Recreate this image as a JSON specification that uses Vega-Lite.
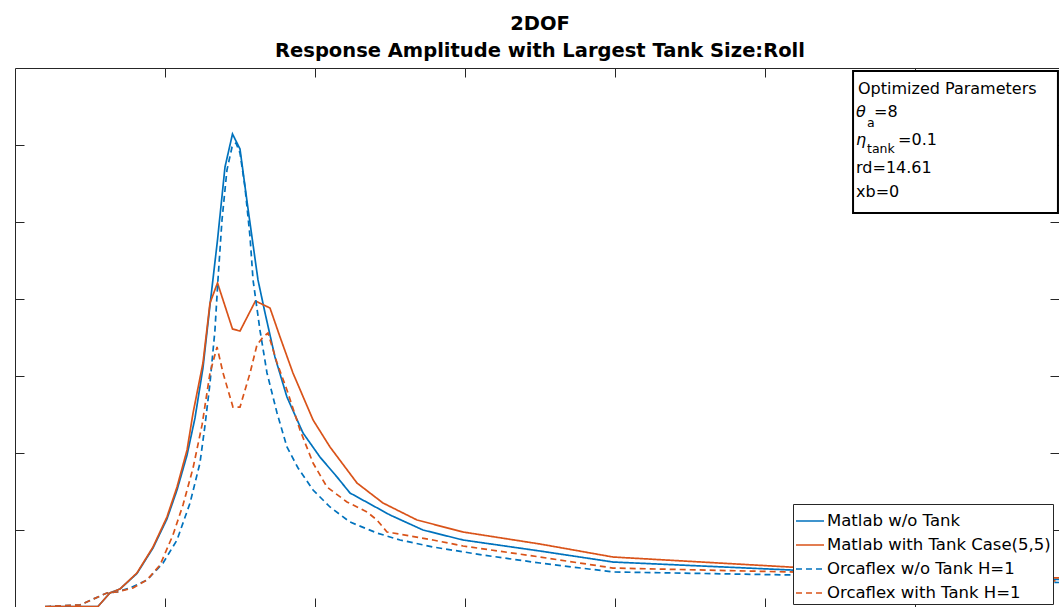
{
  "$schema": "https://vega.github.io/schema/vega-lite/v6.json",
  "width": 1044,
  "height": 539,
  "autosize": {"type": "none"},
  "padding": {"left": 15, "top": 68, "right": 0, "bottom": 0},
  "background": "white",
  "config": {
    "view": {"stroke": null},
    "font": "DejaVu Sans",
    "axis": {"domainColor": "#262626", "tickColor": "#262626", "domainWidth": 1, "tickWidth": 1, "grid": false, "labels": false, "title": null, "tickSize": -9},
    "legend": {
      "orient": "none", "legendX": 778, "legendY": 436, "title": null,
      "symbolType": "stroke", "symbolSize": 784, "symbolStrokeWidth": 1.7,
      "labelFont": "DejaVu Sans", "labelFontSize": 16.5, "labelColor": "#000", "labelOffset": 2,
      "padding": 2, "rowPadding": -4.5, "strokeColor": "#262626", "fillColor": "white", "labelLimit": 400
    }
  },
  "title": {
    "text": ["2DOF", "Response Amplitude with Largest Tank Size:Roll"],
    "font": "DejaVu Sans", "fontSize": 19.5, "fontWeight": "bold", "color": "#000",
    "lineHeight": 27, "anchor": "middle", "offset": 6, "dx": 3
  },
  "datasets": {
    "curves": [
      {"series": "Matlab w/o Tank", "x": 0.233, "y": 0.006},
      {"series": "Matlab w/o Tank", "x": 0.553, "y": 0.006},
      {"series": "Matlab w/o Tank", "x": 0.633, "y": 0.182},
      {"series": "Matlab w/o Tank", "x": 0.700, "y": 0.234},
      {"series": "Matlab w/o Tank", "x": 0.813, "y": 0.435},
      {"series": "Matlab w/o Tank", "x": 0.920, "y": 0.766},
      {"series": "Matlab w/o Tank", "x": 1.013, "y": 1.143},
      {"series": "Matlab w/o Tank", "x": 1.080, "y": 1.519},
      {"series": "Matlab w/o Tank", "x": 1.147, "y": 1.974},
      {"series": "Matlab w/o Tank", "x": 1.200, "y": 2.455},
      {"series": "Matlab w/o Tank", "x": 1.253, "y": 3.104},
      {"series": "Matlab w/o Tank", "x": 1.300, "y": 3.922},
      {"series": "Matlab w/o Tank", "x": 1.350, "y": 4.766},
      {"series": "Matlab w/o Tank", "x": 1.400, "y": 5.714},
      {"series": "Matlab w/o Tank", "x": 1.450, "y": 6.143},
      {"series": "Matlab w/o Tank", "x": 1.500, "y": 5.948},
      {"series": "Matlab w/o Tank", "x": 1.550, "y": 5.221},
      {"series": "Matlab w/o Tank", "x": 1.620, "y": 4.247},
      {"series": "Matlab w/o Tank", "x": 1.667, "y": 3.818},
      {"series": "Matlab w/o Tank", "x": 1.733, "y": 3.247},
      {"series": "Matlab w/o Tank", "x": 1.813, "y": 2.727},
      {"series": "Matlab w/o Tank", "x": 1.920, "y": 2.260},
      {"series": "Matlab w/o Tank", "x": 2.033, "y": 1.948},
      {"series": "Matlab w/o Tank", "x": 2.147, "y": 1.688},
      {"series": "Matlab w/o Tank", "x": 2.233, "y": 1.481},
      {"series": "Matlab w/o Tank", "x": 2.500, "y": 1.195},
      {"series": "Matlab w/o Tank", "x": 2.720, "y": 1.000},
      {"series": "Matlab w/o Tank", "x": 2.987, "y": 0.870},
      {"series": "Matlab w/o Tank", "x": 3.500, "y": 0.727},
      {"series": "Matlab w/o Tank", "x": 3.987, "y": 0.584},
      {"series": "Matlab w/o Tank", "x": 5.167, "y": 0.481},
      {"series": "Matlab w/o Tank", "x": 6.960, "y": 0.357},

      {"series": "Matlab with Tank Case(5,5)", "x": 0.233, "y": 0.006},
      {"series": "Matlab with Tank Case(5,5)", "x": 0.553, "y": 0.006},
      {"series": "Matlab with Tank Case(5,5)", "x": 0.633, "y": 0.182},
      {"series": "Matlab with Tank Case(5,5)", "x": 0.700, "y": 0.234},
      {"series": "Matlab with Tank Case(5,5)", "x": 0.813, "y": 0.442},
      {"series": "Matlab with Tank Case(5,5)", "x": 0.920, "y": 0.779},
      {"series": "Matlab with Tank Case(5,5)", "x": 1.013, "y": 1.169},
      {"series": "Matlab with Tank Case(5,5)", "x": 1.080, "y": 1.558},
      {"series": "Matlab with Tank Case(5,5)", "x": 1.147, "y": 2.039},
      {"series": "Matlab with Tank Case(5,5)", "x": 1.187, "y": 2.519},
      {"series": "Matlab with Tank Case(5,5)", "x": 1.253, "y": 3.169},
      {"series": "Matlab with Tank Case(5,5)", "x": 1.300, "y": 3.948},
      {"series": "Matlab with Tank Case(5,5)", "x": 1.350, "y": 4.208},
      {"series": "Matlab with Tank Case(5,5)", "x": 1.450, "y": 3.610},
      {"series": "Matlab with Tank Case(5,5)", "x": 1.500, "y": 3.584},
      {"series": "Matlab with Tank Case(5,5)", "x": 1.603, "y": 3.974},
      {"series": "Matlab with Tank Case(5,5)", "x": 1.700, "y": 3.883},
      {"series": "Matlab with Tank Case(5,5)", "x": 1.767, "y": 3.506},
      {"series": "Matlab with Tank Case(5,5)", "x": 1.853, "y": 3.039},
      {"series": "Matlab with Tank Case(5,5)", "x": 1.987, "y": 2.429},
      {"series": "Matlab with Tank Case(5,5)", "x": 2.100, "y": 2.078},
      {"series": "Matlab with Tank Case(5,5)", "x": 2.280, "y": 1.610},
      {"series": "Matlab with Tank Case(5,5)", "x": 2.453, "y": 1.351},
      {"series": "Matlab with Tank Case(5,5)", "x": 2.680, "y": 1.130},
      {"series": "Matlab with Tank Case(5,5)", "x": 2.987, "y": 0.974},
      {"series": "Matlab with Tank Case(5,5)", "x": 3.500, "y": 0.818},
      {"series": "Matlab with Tank Case(5,5)", "x": 3.987, "y": 0.649},
      {"series": "Matlab with Tank Case(5,5)", "x": 5.167, "y": 0.519},
      {"series": "Matlab with Tank Case(5,5)", "x": 6.960, "y": 0.377},

      {"series": "Orcaflex w/o Tank H=1", "x": 0.200, "y": 0.006},
      {"series": "Orcaflex w/o Tank H=1", "x": 0.433, "y": 0.026},
      {"series": "Orcaflex w/o Tank H=1", "x": 0.613, "y": 0.182},
      {"series": "Orcaflex w/o Tank H=1", "x": 0.680, "y": 0.195},
      {"series": "Orcaflex w/o Tank H=1", "x": 0.767, "y": 0.247},
      {"series": "Orcaflex w/o Tank H=1", "x": 0.880, "y": 0.351},
      {"series": "Orcaflex w/o Tank H=1", "x": 0.987, "y": 0.571},
      {"series": "Orcaflex w/o Tank H=1", "x": 1.080, "y": 0.870},
      {"series": "Orcaflex w/o Tank H=1", "x": 1.167, "y": 1.351},
      {"series": "Orcaflex w/o Tank H=1", "x": 1.233, "y": 1.870},
      {"series": "Orcaflex w/o Tank H=1", "x": 1.267, "y": 2.364},
      {"series": "Orcaflex w/o Tank H=1", "x": 1.300, "y": 2.909},
      {"series": "Orcaflex w/o Tank H=1", "x": 1.333, "y": 3.597},
      {"series": "Orcaflex w/o Tank H=1", "x": 1.353, "y": 4.247},
      {"series": "Orcaflex w/o Tank H=1", "x": 1.380, "y": 5.026},
      {"series": "Orcaflex w/o Tank H=1", "x": 1.413, "y": 5.675},
      {"series": "Orcaflex w/o Tank H=1", "x": 1.447, "y": 5.974},
      {"series": "Orcaflex w/o Tank H=1", "x": 1.473, "y": 6.026},
      {"series": "Orcaflex w/o Tank H=1", "x": 1.500, "y": 5.896},
      {"series": "Orcaflex w/o Tank H=1", "x": 1.533, "y": 5.455},
      {"series": "Orcaflex w/o Tank H=1", "x": 1.567, "y": 4.805},
      {"series": "Orcaflex w/o Tank H=1", "x": 1.587, "y": 4.247},
      {"series": "Orcaflex w/o Tank H=1", "x": 1.633, "y": 3.597},
      {"series": "Orcaflex w/o Tank H=1", "x": 1.680, "y": 3.039},
      {"series": "Orcaflex w/o Tank H=1", "x": 1.747, "y": 2.519},
      {"series": "Orcaflex w/o Tank H=1", "x": 1.813, "y": 2.078},
      {"series": "Orcaflex w/o Tank H=1", "x": 1.887, "y": 1.805},
      {"series": "Orcaflex w/o Tank H=1", "x": 1.987, "y": 1.519},
      {"series": "Orcaflex w/o Tank H=1", "x": 2.100, "y": 1.299},
      {"series": "Orcaflex w/o Tank H=1", "x": 2.233, "y": 1.104},
      {"series": "Orcaflex w/o Tank H=1", "x": 2.413, "y": 0.961},
      {"series": "Orcaflex w/o Tank H=1", "x": 2.567, "y": 0.870},
      {"series": "Orcaflex w/o Tank H=1", "x": 2.787, "y": 0.779},
      {"series": "Orcaflex w/o Tank H=1", "x": 3.120, "y": 0.675},
      {"series": "Orcaflex w/o Tank H=1", "x": 3.500, "y": 0.571},
      {"series": "Orcaflex w/o Tank H=1", "x": 3.987, "y": 0.455},
      {"series": "Orcaflex w/o Tank H=1", "x": 5.167, "y": 0.416},
      {"series": "Orcaflex w/o Tank H=1", "x": 6.960, "y": 0.318},

      {"series": "Orcaflex with Tank H=1", "x": 0.200, "y": 0.006},
      {"series": "Orcaflex with Tank H=1", "x": 0.433, "y": 0.026},
      {"series": "Orcaflex with Tank H=1", "x": 0.613, "y": 0.182},
      {"series": "Orcaflex with Tank H=1", "x": 0.680, "y": 0.195},
      {"series": "Orcaflex with Tank H=1", "x": 0.787, "y": 0.247},
      {"series": "Orcaflex with Tank H=1", "x": 0.880, "y": 0.351},
      {"series": "Orcaflex with Tank H=1", "x": 0.967, "y": 0.545},
      {"series": "Orcaflex with Tank H=1", "x": 1.053, "y": 0.935},
      {"series": "Orcaflex with Tank H=1", "x": 1.120, "y": 1.325},
      {"series": "Orcaflex with Tank H=1", "x": 1.187, "y": 1.805},
      {"series": "Orcaflex with Tank H=1", "x": 1.247, "y": 2.364},
      {"series": "Orcaflex with Tank H=1", "x": 1.300, "y": 3.039},
      {"series": "Orcaflex with Tank H=1", "x": 1.347, "y": 3.377},
      {"series": "Orcaflex with Tank H=1", "x": 1.387, "y": 3.039},
      {"series": "Orcaflex with Tank H=1", "x": 1.453, "y": 2.597},
      {"series": "Orcaflex with Tank H=1", "x": 1.500, "y": 2.597},
      {"series": "Orcaflex with Tank H=1", "x": 1.567, "y": 3.039},
      {"series": "Orcaflex with Tank H=1", "x": 1.613, "y": 3.403},
      {"series": "Orcaflex with Tank H=1", "x": 1.653, "y": 3.506},
      {"series": "Orcaflex with Tank H=1", "x": 1.687, "y": 3.558},
      {"series": "Orcaflex with Tank H=1", "x": 1.747, "y": 3.169},
      {"series": "Orcaflex with Tank H=1", "x": 1.813, "y": 2.818},
      {"series": "Orcaflex with Tank H=1", "x": 1.900, "y": 2.299},
      {"series": "Orcaflex with Tank H=1", "x": 1.987, "y": 1.870},
      {"series": "Orcaflex with Tank H=1", "x": 2.080, "y": 1.558},
      {"series": "Orcaflex with Tank H=1", "x": 2.213, "y": 1.364},
      {"series": "Orcaflex with Tank H=1", "x": 2.347, "y": 1.234},
      {"series": "Orcaflex with Tank H=1", "x": 2.413, "y": 1.130},
      {"series": "Orcaflex with Tank H=1", "x": 2.480, "y": 0.974},
      {"series": "Orcaflex with Tank H=1", "x": 2.520, "y": 0.961},
      {"series": "Orcaflex with Tank H=1", "x": 2.787, "y": 0.870},
      {"series": "Orcaflex with Tank H=1", "x": 2.987, "y": 0.792},
      {"series": "Orcaflex with Tank H=1", "x": 3.500, "y": 0.649},
      {"series": "Orcaflex with Tank H=1", "x": 3.987, "y": 0.506},
      {"series": "Orcaflex with Tank H=1", "x": 5.167, "y": 0.455},
      {"series": "Orcaflex with Tank H=1", "x": 6.960, "y": 0.338}
    ],
    "parambox": [
      {"x0": 5.587, "x1": 6.953, "y0": 6.961, "y1": 5.117}
    ],
    "plaintext": [
      {"x": 5.62, "y": 6.658, "label": "Optimized Parameters"},
      {"x": 5.727, "y": 6.36, "label": "=8"},
      {"x": 5.887, "y": 6.0, "label": "=0.1"},
      {"x": 5.607, "y": 5.64, "label": "rd=14.61"},
      {"x": 5.607, "y": 5.329, "label": "xb=0"}
    ],
    "greek": [
      {"x": 5.607, "y": 6.36, "label": "θ"},
      {"x": 5.607, "y": 6.0, "label": "η"}
    ],
    "subs": [
      {"x": 5.68, "y": 6.234, "label": "a"},
      {"x": 5.68, "y": 5.895, "label": "tank"}
    ]
  },
  "layer": [
    {
      "data": {"name": "curves"},
      "mark": {"type": "line", "strokeWidth": 1.7, "clip": false},
      "encoding": {
        "x": {"field": "x", "type": "quantitative", "scale": {"domain": [0, 6.96], "nice": false, "zero": false},
              "axis": {"orient": "bottom", "values": [1, 2, 3, 4, 5, 6]}},
        "y": {"field": "y", "type": "quantitative", "scale": {"domain": [0, 7], "nice": false, "zero": false},
              "axis": {"orient": "left", "values": [1, 2, 3, 4, 5, 6]}},
        "color": {"field": "series", "type": "nominal",
                  "scale": {"domain": ["Matlab w/o Tank", "Matlab with Tank Case(5,5)", "Orcaflex w/o Tank H=1", "Orcaflex with Tank H=1"],
                            "range": ["#0072BD", "#D95319", "#0072BD", "#D95319"]}},
        "strokeDash": {"field": "series", "type": "nominal",
                  "scale": {"domain": ["Matlab w/o Tank", "Matlab with Tank Case(5,5)", "Orcaflex w/o Tank H=1", "Orcaflex with Tank H=1"],
                            "range": [[1, 0], [1, 0], [6, 4], [6, 4]]}}
      }
    },
    {
      "data": {"name": "parambox"},
      "mark": {"type": "rect", "fill": "white", "stroke": "#000", "strokeWidth": 2},
      "encoding": {
        "x": {"field": "x0", "type": "quantitative", "scale": {"domain": [0, 6.96], "nice": false, "zero": false},
              "axis": {"orient": "top", "values": [1, 2, 3, 4, 5, 6]}},
        "x2": {"field": "x1"},
        "y": {"field": "y0", "type": "quantitative", "scale": {"domain": [0, 7], "nice": false, "zero": false},
              "axis": {"orient": "right", "values": [1, 2, 3, 4, 5, 6], "domain": false}},
        "y2": {"field": "y1"}
      }
    },
    {
      "data": {"name": "plaintext"},
      "mark": {"type": "text", "align": "left", "baseline": "alphabetic", "font": "DejaVu Sans", "fontSize": 16, "color": "#000"},
      "encoding": {
        "x": {"field": "x", "type": "quantitative", "scale": {"domain": [0, 6.96], "nice": false, "zero": false}, "axis": null},
        "y": {"field": "y", "type": "quantitative", "scale": {"domain": [0, 7], "nice": false, "zero": false}, "axis": null},
        "text": {"field": "label"}
      }
    },
    {
      "data": {"name": "greek"},
      "mark": {"type": "text", "align": "left", "baseline": "alphabetic", "font": "DejaVu Sans", "fontSize": 16, "fontStyle": "italic", "color": "#000"},
      "encoding": {
        "x": {"field": "x", "type": "quantitative", "scale": {"domain": [0, 6.96], "nice": false, "zero": false}, "axis": null},
        "y": {"field": "y", "type": "quantitative", "scale": {"domain": [0, 7], "nice": false, "zero": false}, "axis": null},
        "text": {"field": "label"}
      }
    },
    {
      "data": {"name": "subs"},
      "mark": {"type": "text", "align": "left", "baseline": "alphabetic", "font": "DejaVu Sans", "fontSize": 12.5, "color": "#000"},
      "encoding": {
        "x": {"field": "x", "type": "quantitative", "scale": {"domain": [0, 6.96], "nice": false, "zero": false}, "axis": null},
        "y": {"field": "y", "type": "quantitative", "scale": {"domain": [0, 7], "nice": false, "zero": false}, "axis": null},
        "text": {"field": "label"}
      }
    }
  ],
  "resolve": {"axis": {"x": "independent", "y": "independent"}}
}
